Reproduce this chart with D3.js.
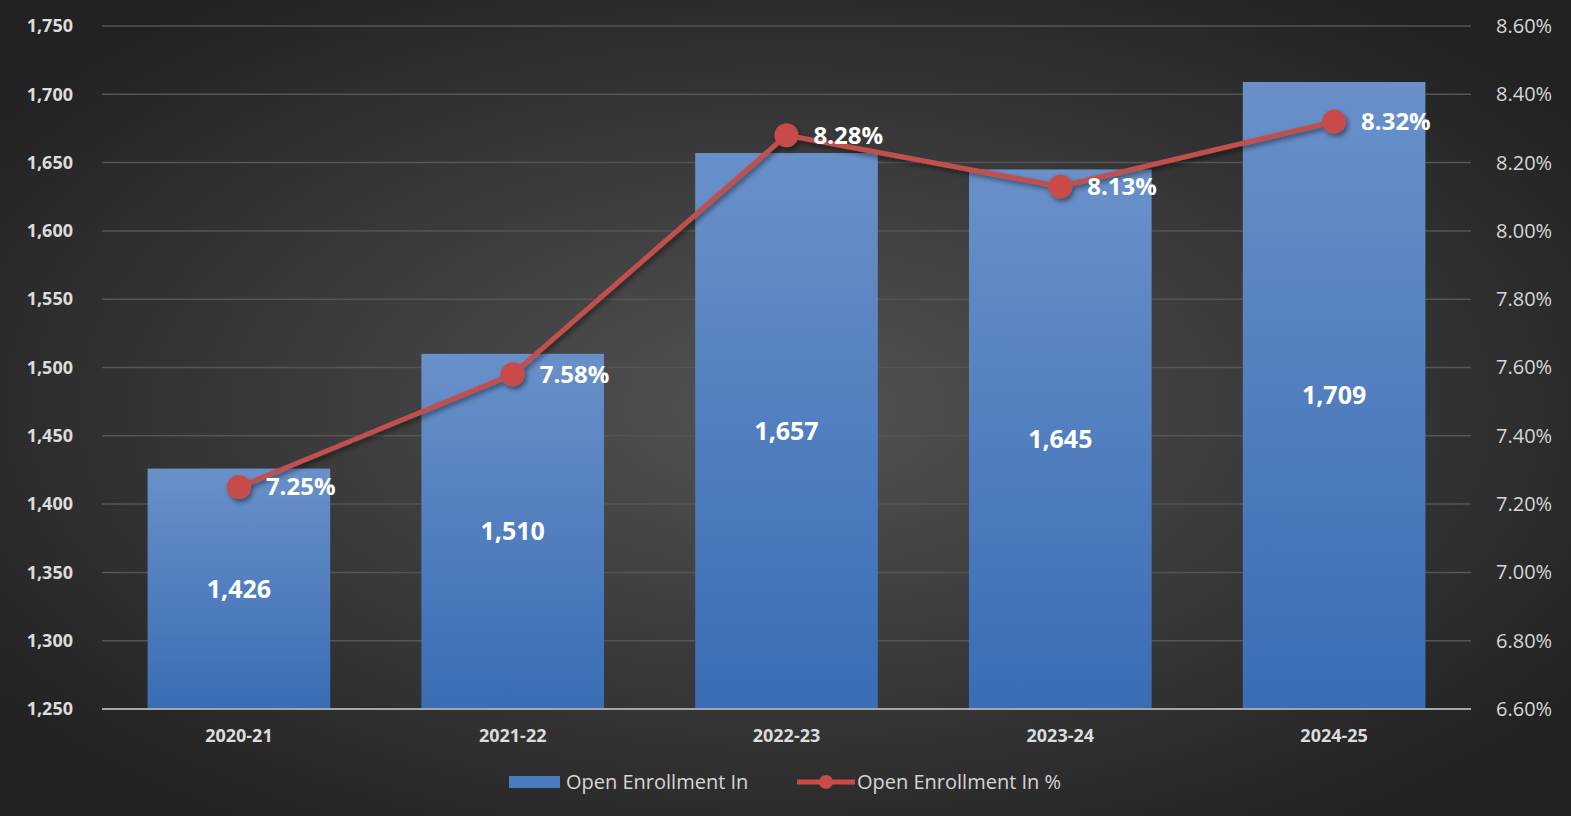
<!DOCTYPE html>
<html>
<head>
<meta charset="utf-8">
<script src="https://cdn.jsdelivr.net/npm/d3@7"></script>
<style>
body { margin: 0; background: #2a2a2a; overflow: hidden; }
svg { display: block; font-family: "Open Sans", "Noto Sans", sans-serif; }
</style>
</head>
<body>
<svg id="chart"></svg>
<script>
var years = ['2020-21', '2021-22', '2022-23', '2023-24', '2024-25'];
var enrollment = [1426, 1510, 1657, 1645, 1709];
var percent = [7.25, 7.58, 8.28, 8.13, 8.32];
var leftTicks = [1250, 1300, 1350, 1400, 1450, 1500, 1550, 1600, 1650, 1700, 1750];
var rightTicks = [6.6, 6.8, 7.0, 7.2, 7.4, 7.6, 7.8, 8.0, 8.2, 8.4, 8.6];

var width = 1571, height = 816;
var margin = {top: 26, right: 100, bottom: 107, left: 102};
var font = '"Open Sans", "Noto Sans", sans-serif';

var svg = d3.select('#chart')
    .attr('width', width)
    .attr('height', height);

var defs = svg.append('defs');

var bg = defs.append('radialGradient').attr('id', 'bg')
    .attr('cx', '50%').attr('cy', '50%').attr('r', '62%');
bg.append('stop').attr('offset', '0%').attr('stop-color', '#535353');
bg.append('stop').attr('offset', '100%').attr('stop-color', '#222222');

var barGrad = defs.append('linearGradient').attr('id', 'barGrad')
    .attr('x1', 0).attr('y1', 0).attr('x2', 0).attr('y2', 1);
barGrad.append('stop').attr('offset', '0%').attr('stop-color', '#6990c9');
barGrad.append('stop').attr('offset', '100%').attr('stop-color', '#3a6db5');

var shadow = defs.append('filter').attr('id', 'shadow')
    .attr('x', '-20%').attr('y', '-20%').attr('width', '140%').attr('height', '140%');
shadow.append('feDropShadow').attr('dx', 2).attr('dy', 3).attr('stdDeviation', 2.5)
    .attr('flood-color', '#000').attr('flood-opacity', 0.45);

svg.append('rect')
    .attr('width', width).attr('height', height)
    .attr('fill', 'url(#bg)');

var x = d3.scaleBand()
    .domain(years)
    .range([margin.left, width - margin.right])
    .paddingInner(0.333)
    .paddingOuter(0.1665);

var yLeft = d3.scaleLinear()
    .domain([1250, 1750])
    .range([height - margin.bottom, margin.top]);

var yRight = d3.scaleLinear()
    .domain([6.6, 8.6])
    .range([height - margin.bottom, margin.top]);

// gridlines
svg.append('g')
    .selectAll('line')
    .data(leftTicks.slice(1))
    .enter()
    .append('line')
    .attr('x1', margin.left)
    .attr('x2', width - margin.right)
    .attr('y1', function(d) { return yLeft(d); })
    .attr('y2', function(d) { return yLeft(d); })
    .attr('stroke', '#555555')
    .attr('stroke-width', 1.5);

// left axis
var leftAxis = svg.append('g')
    .attr('transform', 'translate(' + margin.left + ',0)')
    .call(d3.axisLeft(yLeft).tickValues(leftTicks).tickSize(0).tickPadding(29)
        .tickFormat(d3.format(',')));
leftAxis.attr('font-family', font);
leftAxis.select('.domain').remove();
leftAxis.selectAll('text')
    .attr('fill', '#dcdcdc')
    .attr('font-size', 18)
    .attr('font-weight', 'bold');

// right axis
var rightAxis = svg.append('g')
    .attr('transform', 'translate(' + (width - margin.right) + ',0)')
    .call(d3.axisRight(yRight).tickValues(rightTicks).tickSize(0).tickPadding(25)
        .tickFormat(function(d) { return d.toFixed(2) + '%'; }));
rightAxis.attr('font-family', font);
rightAxis.select('.domain').remove();
rightAxis.selectAll('text')
    .attr('fill', '#d6d6d6')
    .attr('font-size', 20);

// bars
svg.append('g')
    .selectAll('rect')
    .data(enrollment)
    .enter()
    .append('rect')
    .attr('x', function(d, i) { return x(years[i]); })
    .attr('y', function(d) { return yLeft(d); })
    .attr('width', x.bandwidth())
    .attr('height', function(d) { return yLeft(1250) - yLeft(d); })
    .attr('fill', 'url(#barGrad)');

// bar labels
svg.append('g')
    .selectAll('text')
    .data(enrollment)
    .enter()
    .append('text')
    .attr('x', function(d, i) { return x(years[i]) + x.bandwidth() / 2; })
    .attr('y', function(d) { return (yLeft(d) + yLeft(1250)) / 2; })
    .attr('dy', '0.35em')
    .attr('text-anchor', 'middle')
    .attr('fill', '#ffffff')
    .attr('font-size', 25)
    .attr('font-weight', 'bold')
    .text(function(d) { return d3.format(',')(d); });

// baseline
svg.append('line')
    .attr('x1', margin.left)
    .attr('x2', width - margin.right)
    .attr('y1', yLeft(1250))
    .attr('y2', yLeft(1250))
    .attr('stroke', '#a6a6a6')
    .attr('stroke-width', 2);

// x axis labels
var xAxis = svg.append('g')
    .attr('transform', 'translate(0,' + yLeft(1250) + ')')
    .call(d3.axisBottom(x).tickSize(0).tickPadding(20));
xAxis.attr('font-family', font);
xAxis.select('.domain').remove();
xAxis.selectAll('text')
    .attr('fill', '#dcdcdc')
    .attr('font-size', 18)
    .attr('font-weight', 'bold');

// line
var line = d3.line()
    .x(function(d, i) { return x(years[i]) + x.bandwidth() / 2; })
    .y(function(d) { return yRight(d); });

var lineG = svg.append('g').attr('filter', 'url(#shadow)');
lineG.append('path')
    .datum(percent)
    .attr('d', line)
    .attr('fill', 'none')
    .attr('stroke', '#c0504d')
    .attr('stroke-width', 5);

lineG.selectAll('circle')
    .data(percent)
    .enter()
    .append('circle')
    .attr('cx', function(d, i) { return x(years[i]) + x.bandwidth() / 2; })
    .attr('cy', function(d) { return yRight(d); })
    .attr('r', 12)
    .attr('fill', '#c94b48');

// line labels
svg.append('g')
    .selectAll('text')
    .data(percent)
    .enter()
    .append('text')
    .attr('x', function(d, i) { return x(years[i]) + x.bandwidth() / 2 + 27; })
    .attr('y', function(d) { return yRight(d); })
    .attr('dy', '0.35em')
    .attr('fill', '#ffffff')
    .attr('font-size', 24)
    .attr('font-weight', 'bold')
    .text(function(d) { return d.toFixed(2) + '%'; });

// legend
var legend = svg.append('g').attr('transform', 'translate(0,782)');
legend.append('rect')
    .attr('x', 509).attr('y', -6).attr('width', 51).attr('height', 12)
    .attr('fill', '#4a7cc4');
legend.append('text')
    .attr('x', 566).attr('y', 0).attr('dy', '0.35em')
    .attr('fill', '#d6d6d6').attr('font-size', 20)
    .text('Open Enrollment In');
legend.append('line')
    .attr('x1', 797).attr('x2', 855).attr('y1', 0).attr('y2', 0)
    .attr('stroke', '#c94b48').attr('stroke-width', 5);
legend.append('circle')
    .attr('cx', 826).attr('cy', 0).attr('r', 7)
    .attr('fill', '#c94b48');
legend.append('text')
    .attr('x', 857).attr('y', 0).attr('dy', '0.35em')
    .attr('fill', '#d6d6d6').attr('font-size', 20)
    .text('Open Enrollment In %');
</script>
</body>
</html>
